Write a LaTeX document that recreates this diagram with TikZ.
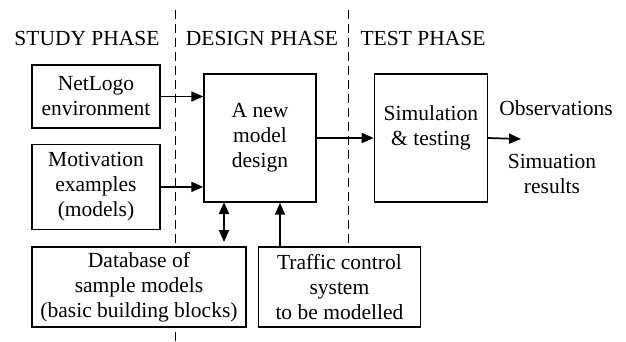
\documentclass[tikz,border=0pt]{standalone}
\usepackage{fontspec}
\setmainfont{Liberation Serif}
\usetikzlibrary{positioning,arrows.meta}

\begin{document}
\begin{tikzpicture}[
    x=1pt, y=-1pt,
    font=\fontsize{21.5}{25}\selectfont,
    box/.style={draw, fill=white, line width=1.4pt, inner sep=2pt, align=center},
    phase/.style={inner sep=0pt},
    arr/.style={-{Triangle[length=12pt,width=10pt]}, line width=1.7pt},
    sep/.style={dash pattern=on 9pt off 5pt, line width=1pt}
]
\useasboundingbox (0,0) rectangle (626,341);

% phase headers and separators
\node[phase] (study) at (87,38) {STUDY PHASE};
\node[phase] (designph) at (262,38) {DESIGN PHASE};
\node[phase] (testph) at (423,38) {TEST PHASE};
\draw[sep] (175,10) -- (175,341);
\draw[sep] (348,10) -- (348,243);

% boxes
\node[box, minimum width=128pt, minimum height=63pt] (netlogo) at (96,96.5) {NetLogo\\environment};
\node[box, minimum width=128pt, minimum height=85pt, below=15pt of netlogo] (motiv) {Motivation\\examples\\(models)};
\node[box, minimum width=112pt, minimum height=128pt] (design) at (260,138) {A new\\model\\design};
\node[box, minimum width=113pt, minimum height=128pt, right=57pt of design] (sim) {Simulation\\\& testing\\\mbox{}};
\node[box, minimum width=214pt, minimum height=80pt] (db) at (139,287) {Database of\\sample models\\(basic building blocks)};
\node[box, minimum width=162pt, minimum height=80pt, right=11pt of db] (traffic) {Traffic control\\system\\to be modelled};

% outputs
\node[inner sep=0pt] (obs) at (556,108) {Observations};
\node[inner sep=0pt, align=center] (res) at (552,174) {Simuation\\results};
\coordinate (out) at (521,139);

\draw[arr] (netlogo.east) -- (netlogo.east -| design.west);
\draw[arr] (motiv.east) -- (motiv.east -| design.west);
\draw[arr] (design.east |- sim.west) -- (sim.west);
\draw[arr] (sim.east) -- (out);
\draw[arr, {Triangle[length=12pt,width=10pt]}-{Triangle[length=12pt,width=10pt]}] (224,202) -- (224,242);
\draw[arr] (traffic.north -| 280,0) -- (design.south -| 280,0);
\end{tikzpicture}
\end{document}
